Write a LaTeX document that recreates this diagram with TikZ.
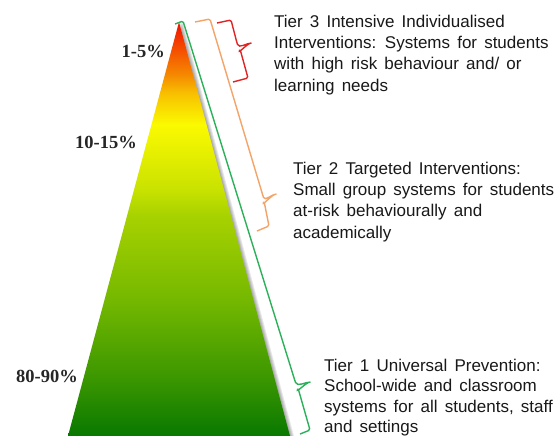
\documentclass[tikz,border=0pt]{standalone}
\usepackage{fontspec}
\newfontfamily\tierfont{Liberation Sans}
\newfontfamily\pctfont{Liberation Serif}
\newcommand\mytiersp{\spaceskip=0.42em plus 0.1em\relax}
\definecolor{g0}{HTML}{087800}
\definecolor{g1}{HTML}{3A9600}
\definecolor{g2}{HTML}{74B800}
\definecolor{g3}{HTML}{A8D200}
\definecolor{g4}{HTML}{C8E200}
\definecolor{g5}{HTML}{E8F000}
\definecolor{y1}{HTML}{FAFA00}
\definecolor{o1}{HTML}{F8C000}
\definecolor{o2}{HTML}{F58A00}
\definecolor{o3}{HTML}{F55000}
\definecolor{r1}{HTML}{F01000}
\definecolor{bgreen}{HTML}{2DB05A}
\definecolor{borange}{HTML}{F4A468}
\definecolor{bred}{HTML}{E02424}
\pgfdeclareverticalshading{pyr}{100bp}{color(0bp)=(g0); color(25bp)=(g0); color(31.8bp)=(g1); color(41.4bp)=(g2); color(51.7bp)=(g3); color(54.7bp)=(g4); color(59.5bp)=(g5); color(62.6bp)=(y1); color(66.4bp)=(o1); color(68.6bp)=(o2); color(71.6bp)=(o3); color(75bp)=(r1); color(100bp)=(r1)}
\tikzset{
  brace/.style={line width=1.4pt, rounded corners=1.5pt},
  tiertext/.style={anchor=north west, inner sep=0pt, align=left, font=\tierfont\fontsize{17}{21.3}\selectfont\mytiersp, text=black!90},
  pct/.style={anchor=base east, inner sep=0pt, font=\pctfont\bfseries\fontsize{18.5}{20}\selectfont, text=black!85}
}
\begin{document}
\begin{tikzpicture}[x=1pt,y=-1pt]
\useasboundingbox (0,0) rectangle (557,436);
\fill[white] (0,0) rectangle (557,436);
% shadow
\foreach \k in {1,2,...,4}{
  \fill[black, opacity=0.09] (179+\k,22) -- (290+\k,436) -- (68+\k,436) -- cycle;
}
% pyramid
\shade[shading=pyr] (179,22) -- (290,436) -- (68,436) -- cycle;
% brackets
\draw[brace, bgreen] (175,24) -- (183,21) -- (295,381) to[out=-70,in=180] (312,382) to[out=180,in=-110] (298,388) -- (310,430) -- (300,434);
\draw[brace, borange] (195,22) -- (210,19) -- (263,196) to[out=-70,in=180] (278,194) to[out=180,in=-110] (264,201) -- (269,226) -- (257,231);
\draw[brace, bred] (217,23) -- (231,20) -- (237,43) to[out=-70,in=180] (253,43) to[out=180,in=-110] (240,49) -- (248,78) -- (233,82);
% texts
\node[tiertext] (t3) at (274,14.7) {Tier 3 Intensive Individualised\\Interventions: Systems for students\\with high risk behaviour and/ or\\learning needs};
\node[tiertext] (t2) at (293,161.7) {Tier 2 Targeted Interventions:\\Small group systems for students\\at-risk behaviourally and\\academically};
\node[tiertext, font=\tierfont\fontsize{17}{20.5}\selectfont\mytiersp] (t1) at (324,358.7) {Tier 1 Universal Prevention:\\School-wide and classroom\\systems for all students, staff\\and settings};
\node[pct] (p3) at (165,58) {1-5\%};
\node[pct] (p2) at (137,148) {10-15\%};
\node[pct] (p1) at (78,382) {80-90\%};
\end{tikzpicture}
\end{document}
